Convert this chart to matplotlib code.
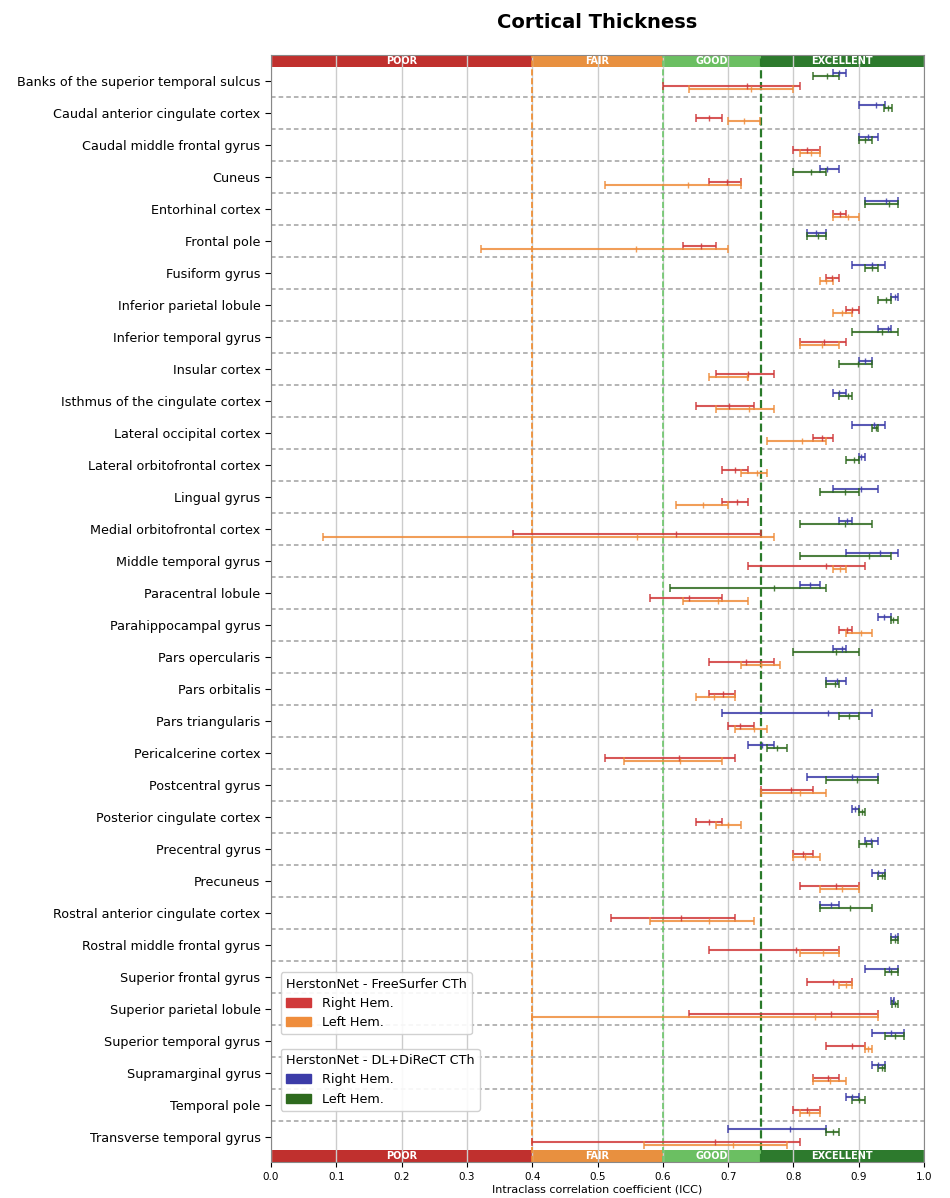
import matplotlib
matplotlib.use("Agg")
import matplotlib.pyplot as plt
from matplotlib.patches import Patch, Rectangle
import numpy as np

regions = [
    "Banks of the superior temporal sulcus", "Caudal anterior cingulate cortex",
    "Caudal middle frontal gyrus", "Cuneus", "Entorhinal cortex", "Frontal pole",
    "Fusiform gyrus", "Inferior parietal lobule", "Inferior temporal gyrus",
    "Insular cortex", "Isthmus of the cingulate cortex", "Lateral occipital cortex",
    "Lateral orbitofrontal cortex", "Lingual gyrus", "Medial orbitofrontal cortex",
    "Middle temporal gyrus", "Paracentral lobule", "Parahippocampal gyrus",
    "Pars opercularis", "Pars orbitalis", "Pars triangularis", "Pericalcerine cortex",
    "Postcentral gyrus", "Posterior cingulate cortex", "Precentral gyrus", "Precuneus",
    "Rostral anterior cingulate cortex", "Rostral middle frontal gyrus",
    "Superior frontal gyrus", "Superior parietal lobule", "Superior temporal gyrus",
    "Supramarginal gyrus", "Temporal pole", "Transverse temporal gyrus",
]

# ICC point estimate, lower CI, upper CI
fs_right_icc = [0.729, 0.670, 0.821, 0.698, 0.871, 0.659, 0.859, 0.889, 0.847, 0.731,
                0.702, 0.843, 0.710, 0.713, 0.620, 0.850, 0.640, 0.882, 0.728, 0.692,
                0.718, 0.625, 0.796, 0.670, 0.814, 0.865, 0.628, 0.804, 0.861, 0.858,
                0.889, 0.853, 0.820, 0.680]
fs_right_lo = [0.600, 0.650, 0.800, 0.670, 0.860, 0.631, 0.850, 0.880, 0.810, 0.681,
               0.650, 0.830, 0.690, 0.690, 0.370, 0.731, 0.580, 0.870, 0.670, 0.670,
               0.700, 0.511, 0.750, 0.650, 0.800, 0.810, 0.521, 0.670, 0.820, 0.640,
               0.850, 0.830, 0.800, 0.400]
fs_right_hi = [0.810, 0.690, 0.840, 0.720, 0.880, 0.681, 0.870, 0.900, 0.880, 0.770,
               0.740, 0.860, 0.731, 0.731, 0.750, 0.910, 0.690, 0.890, 0.770, 0.710,
               0.740, 0.711, 0.830, 0.690, 0.830, 0.900, 0.711, 0.870, 0.890, 0.930,
               0.910, 0.870, 0.840, 0.810]

fs_left_icc = [0.735, 0.724, 0.827, 0.639, 0.883, 0.559, 0.850, 0.874, 0.844, 0.729,
               0.732, 0.813, 0.744, 0.661, 0.560, 0.872, 0.685, 0.904, 0.750, 0.679,
               0.739, 0.626, 0.810, 0.700, 0.818, 0.875, 0.671, 0.846, 0.880, 0.833,
               0.914, 0.856, 0.824, 0.708]
fs_left_lo = [0.640, 0.700, 0.810, 0.511, 0.860, 0.322, 0.840, 0.860, 0.810, 0.670,
              0.681, 0.760, 0.720, 0.620, 0.080, 0.860, 0.631, 0.880, 0.720, 0.650,
              0.711, 0.541, 0.750, 0.681, 0.800, 0.840, 0.580, 0.810, 0.870, 0.400,
              0.910, 0.830, 0.810, 0.571]
fs_left_hi = [0.800, 0.749, 0.840, 0.720, 0.900, 0.700, 0.860, 0.890, 0.870, 0.731,
              0.770, 0.850, 0.760, 0.700, 0.770, 0.880, 0.731, 0.920, 0.780, 0.710,
              0.760, 0.691, 0.850, 0.720, 0.840, 0.900, 0.740, 0.870, 0.890, 0.930,
              0.920, 0.880, 0.840, 0.790]

dl_right_icc = [0.870, 0.927, 0.914, 0.851, 0.942, 0.835, 0.920, 0.955, 0.945, 0.910,
                0.870, 0.924, 0.903, 0.903, 0.882, 0.933, 0.825, 0.938, 0.874, 0.866,
                0.853, 0.752, 0.889, 0.894, 0.918, 0.929, 0.858, 0.955, 0.946, 0.952,
                0.949, 0.930, 0.889, 0.795]
dl_right_lo = [0.860, 0.900, 0.900, 0.840, 0.910, 0.820, 0.890, 0.950, 0.930, 0.900,
               0.860, 0.890, 0.900, 0.860, 0.870, 0.880, 0.810, 0.930, 0.860, 0.850,
               0.690, 0.731, 0.820, 0.890, 0.910, 0.920, 0.840, 0.950, 0.910, 0.950,
               0.920, 0.920, 0.880, 0.700]
dl_right_hi = [0.880, 0.940, 0.930, 0.870, 0.960, 0.850, 0.940, 0.960, 0.950, 0.920,
               0.880, 0.940, 0.910, 0.930, 0.890, 0.960, 0.840, 0.950, 0.880, 0.880,
               0.920, 0.770, 0.930, 0.900, 0.930, 0.940, 0.870, 0.960, 0.960, 0.954,
               0.970, 0.940, 0.900, 0.850]

dl_left_icc = [0.851, 0.945, 0.910, 0.827, 0.947, 0.838, 0.920, 0.942, 0.935, 0.899,
               0.883, 0.927, 0.893, 0.879, 0.879, 0.916, 0.770, 0.953, 0.865, 0.864,
               0.885, 0.775, 0.897, 0.905, 0.911, 0.935, 0.887, 0.955, 0.949, 0.955,
               0.956, 0.935, 0.900, 0.860]
dl_left_lo = [0.830, 0.939, 0.900, 0.800, 0.910, 0.820, 0.910, 0.930, 0.890, 0.870,
              0.870, 0.920, 0.880, 0.840, 0.810, 0.810, 0.611, 0.950, 0.800, 0.850,
              0.870, 0.760, 0.850, 0.900, 0.900, 0.930, 0.840, 0.950, 0.940, 0.951,
              0.940, 0.930, 0.890, 0.850]
dl_left_hi = [0.870, 0.951, 0.920, 0.850, 0.960, 0.850, 0.930, 0.950, 0.960, 0.920,
              0.890, 0.930, 0.900, 0.900, 0.920, 0.950, 0.850, 0.960, 0.900, 0.870,
              0.900, 0.790, 0.930, 0.910, 0.920, 0.940, 0.920, 0.960, 0.960, 0.960,
              0.970, 0.940, 0.910, 0.870]

band_edges = [0.0, 0.4, 0.6, 0.75, 1.0]
band_names = ["POOR", "FAIR", "GOOD", "EXCELLENT"]
band_colors = ["#c0302e", "#e8903f", "#6bbf62", "#2d7a2d"]

c_red = "#d0393a"
c_orange = "#ef8d3c"
c_blue = "#3c3ca8"
c_green = "#2e6a1e"

fig = plt.figure(figsize=(9.5, 11.98), dpi=100)
ax = fig.add_axes([0.2853, 0.0301, 0.6874, 0.924])

y = np.arange(len(regions))
series = [
    (dl_right_icc, dl_right_lo, dl_right_hi, c_blue, -0.26),
    (dl_left_icc, dl_left_lo, dl_left_hi, c_green, -0.15),
    (fs_right_icc, fs_right_lo, fs_right_hi, c_red, 0.15),
    (fs_left_icc, fs_left_lo, fs_left_hi, c_orange, 0.26),
]
for icc, lo, hi, col, off in series:
    icc = np.array(icc)
    err = [icc - np.array(lo), np.array(hi) - icc]
    ax.errorbar(icc, y + off, xerr=err, fmt="|", color=col, ecolor=col,
                markersize=5, elinewidth=1.5, capsize=3, capthick=1.2, alpha=0.85, zorder=3)

# separators between regions
for i in range(len(regions) - 1):
    ax.axhline(i + 0.5, color="#a0a0a0", linestyle=(0, (3, 2)), linewidth=1.1, zorder=1.6)

# threshold lines
ax.axvline(0.4, color="#f08a2a", linestyle="--", linewidth=1.2, zorder=2)
ax.axvline(0.6, color="#6cc66a", linestyle="--", linewidth=1.2, zorder=2)
ax.axvline(0.75, color="#2a7a2a", linestyle="--", linewidth=1.6, zorder=2)

# top and bottom bands
bh = 0.0105
for k, name in enumerate(band_names):
    x0, x1 = band_edges[k], band_edges[k + 1]
    for yb in (1 - bh, 0):
        ax.add_patch(Rectangle((x0, yb), x1 - x0, bh, transform=ax.get_xaxis_transform(),
                               facecolor=band_colors[k], edgecolor="none", zorder=1, clip_on=False))
        ax.text((x0 + x1) / 2, yb + bh / 2, name, transform=ax.get_xaxis_transform(),
                ha="center", va="center", color="white", fontsize=7, fontweight="bold", zorder=4)

ax.set_xlim(0, 1)
ax.set_ylim(len(regions) - 1 + 0.78, -0.81)
ax.set_xticks(np.arange(0, 1.01, 0.1))
ax.set_xticklabels([f"{v:.1f}" for v in np.arange(0, 1.01, 0.1)], fontsize=7.5)
ax.set_yticks(y)
ax.set_yticklabels(regions, fontsize=9.2)
ax.tick_params(axis="y", length=4)
ax.grid(True, axis="x", color="#cccccc", linewidth=1)
ax.set_xlabel("Intraclass correlation coefficient (ICC)", fontsize=8, labelpad=2)
for s in ax.spines.values():
    s.set_color("#888888")

fig.text(0.6289, 0.981, "Cortical Thickness", ha="center", va="center",
         fontsize=14, fontweight="bold")

leg1 = ax.legend(handles=[Patch(color=c_red, label="Right Hem."),
                          Patch(color=c_orange, label="Left Hem.")],
                 title="HerstonNet - FreeSurfer CTh", loc="upper left",
                 bbox_to_anchor=(0.005, 0.177), fontsize=9.2, title_fontsize=9.2,
                 alignment="left", framealpha=0.9)
ax.add_artist(leg1)
ax.legend(handles=[Patch(color=c_blue, label="Right Hem."),
                   Patch(color=c_green, label="Left Hem.")],
          title="HerstonNet - DL+DiReCT CTh", loc="upper left",
          bbox_to_anchor=(0.005, 0.108), fontsize=9.2, title_fontsize=9.2,
          alignment="left", framealpha=0.9)

fig.savefig("out.png", dpi=100)
